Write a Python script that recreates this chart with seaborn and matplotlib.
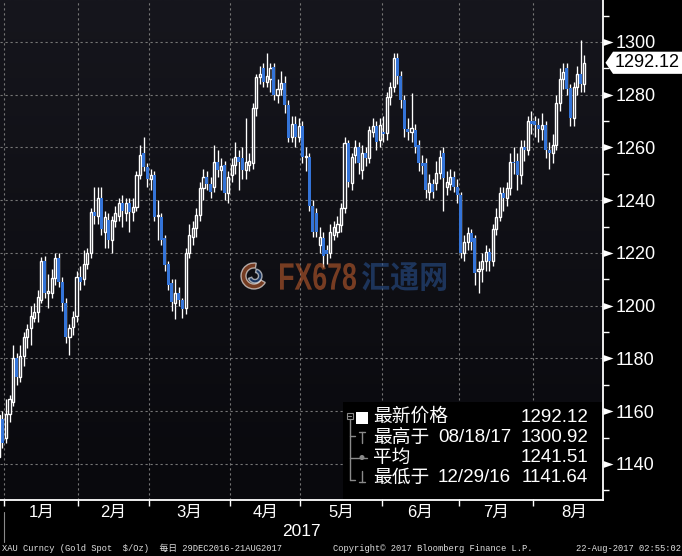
import numpy as np
import pandas as pd
import matplotlib
matplotlib.use("Agg")
import matplotlib.pyplot as plt
import matplotlib.transforms as mtransforms
from matplotlib.colors import LinearSegmentedColormap
from matplotlib.patches import Rectangle, Polygon, PathPatch, Wedge, Circle
from matplotlib.lines import Line2D
from matplotlib.textpath import TextPath
from matplotlib.font_manager import FontProperties
import seaborn as sns

# ---------------------------------------------------------------- data
# trading sessions per month: Dec-2016, Jan..Aug 2017
month_sessions = [2, 21, 20, 23, 20, 23, 22, 21, 15]
month_labels = ["1月", "2月", "3月", "4月", "5月", "6月", "7月", "8月"]
month_weekdays = [21, 20, 23, 20, 23, 22, 21, 23]
year_label = "2017"

opens = [
    1142.5, 1157,
    1150, 1159, 1163.5, 1180, 1173, 1181, 1188, 1191.5, 1195.5, 1197.5, 1202, 1217, 1205, 1205, 1210.5, 1218, 1209, 1201, 1188, 1192, 1196,
    1211, 1210, 1216, 1220, 1235.5, 1234, 1241, 1228, 1232.5, 1225, 1232, 1234, 1239, 1235, 1239, 1235.5, 1237.5, 1249.6, 1258, 1252.6,
    1248, 1249.6, 1234, 1233.6, 1225.6, 1216, 1208.6, 1201, 1205, 1202, 1199, 1220, 1226, 1229.5, 1234.4, 1244.6, 1248.8, 1246, 1245, 1254.6, 1251.6, 1253.4, 1242.7,
    1249.6, 1253.4, 1256.4, 1256, 1251.6, 1253.4, 1254, 1275, 1286.7, 1290, 1285, 1286, 1290.5, 1280, 1282, 1284.5, 1276, 1264, 1269, 1264,
    1268, 1256.4, 1256.4, 1238, 1235, 1223, 1225.6, 1221, 1220, 1227, 1228, 1230.6, 1237, 1261.7, 1246.5, 1257, 1260, 1251.5, 1258, 1256, 1266, 1268, 1263,
    1266, 1265.5, 1279, 1283, 1294, 1287, 1278, 1267, 1266, 1266.6, 1261, 1254, 1254, 1243, 1246, 1246.5, 1250.3, 1258, 1245, 1246, 1249, 1245,
    1242, 1220, 1224, 1227.6, 1225.6, 1213, 1214, 1217, 1220.4, 1217, 1229, 1233.6, 1242.7, 1241, 1244.6, 1254.6, 1255, 1249.6, 1260, 1259, 1270,
    1270, 1268.5, 1267, 1268.5, 1259, 1258, 1261, 1277, 1286, 1290, 1282.6, 1271, 1283, 1288, 1284,
]
highs = [
    1160.5, 1160,
    1164.6, 1166, 1185, 1182, 1185, 1190, 1193, 1200, 1201, 1206, 1218.5, 1219, 1212, 1214, 1220, 1220, 1211, 1203, 1193, 1198, 1213,
    1215, 1221, 1222, 1237, 1245, 1245, 1245, 1236, 1235, 1234, 1238, 1241, 1242, 1241, 1241, 1241, 1251, 1261, 1264, 1254,
    1252, 1251, 1240, 1235, 1227, 1217, 1210, 1210, 1207, 1203, 1222, 1231, 1232, 1237, 1247, 1252, 1251, 1249, 1261, 1259, 1256, 1255, 1251,
    1256, 1262, 1259, 1260, 1271, 1258, 1277, 1288, 1291, 1292, 1295.8, 1292, 1292, 1286, 1289, 1287, 1278, 1272, 1272, 1271,
    1270, 1260, 1258, 1240, 1237, 1230, 1228, 1223, 1231, 1232, 1234, 1239, 1264, 1263, 1258, 1263, 1262, 1261, 1260, 1268, 1271, 1270, 1271,
    1272, 1281, 1285, 1296, 1296, 1289, 1280, 1271, 1280.6, 1269, 1263, 1257, 1256, 1250, 1248, 1255, 1259, 1260, 1251, 1252, 1251, 1248,
    1243, 1227, 1230, 1229, 1227, 1217, 1220, 1223, 1222, 1231, 1237, 1245, 1245, 1247, 1258, 1260, 1258, 1263, 1263, 1272, 1274,
    1272, 1271, 1273, 1270, 1262, 1265, 1280, 1290, 1292, 1292, 1284, 1285, 1291, 1300.92, 1295,
]
lows = [
    1141.64, 1146,
    1148, 1156, 1162, 1170, 1171, 1177, 1184, 1185, 1194, 1194, 1201, 1203, 1199, 1203, 1208, 1207, 1198, 1186, 1181.3, 1189, 1194,
    1206, 1208, 1214, 1218, 1231, 1231, 1227, 1222, 1222, 1220, 1230, 1232, 1230, 1232, 1228, 1232, 1236, 1248, 1251, 1245,
    1244, 1232, 1225, 1223, 1213, 1206, 1198, 1195, 1200, 1195.5, 1197, 1218, 1223, 1226, 1232, 1240, 1244, 1241, 1243, 1249, 1244, 1240, 1239,
    1247, 1250, 1244, 1248, 1248, 1251, 1252, 1272, 1284, 1283, 1283, 1281, 1278, 1277, 1280, 1273, 1262, 1262, 1260, 1262,
    1254, 1251, 1236, 1226, 1226, 1220, 1214.7, 1216, 1218, 1225, 1226, 1228, 1235, 1245, 1244, 1254, 1250, 1248, 1253, 1254, 1264, 1259, 1260,
    1262, 1263, 1276, 1281, 1284, 1275, 1264, 1263, 1262, 1258, 1251, 1250, 1241, 1240, 1241, 1244, 1248, 1236, 1242, 1244, 1243, 1239,
    1218, 1217, 1221, 1221, 1208, 1205, 1209, 1213, 1213, 1215, 1227, 1232, 1236, 1238, 1242, 1250, 1244, 1246, 1255, 1257, 1265,
    1264, 1262, 1263, 1256, 1252, 1254, 1259, 1274, 1282, 1280, 1268, 1268, 1280, 1281, 1281,
]
closes = [
    1158.5, 1148,
    1159, 1164.5, 1180, 1173, 1181, 1188, 1191, 1196, 1197.5, 1203.3, 1217, 1205, 1205.5, 1210.5, 1218, 1209, 1201, 1188, 1191.6, 1195.6, 1211,
    1209, 1216, 1220, 1235.5, 1234, 1241, 1229, 1233.6, 1225, 1232.5, 1235, 1239, 1236, 1239, 1235.5, 1237.5, 1249.6, 1257, 1252.6, 1248,
    1249.6, 1233.6, 1234.5, 1225, 1215.4, 1208, 1201.4, 1205, 1202, 1198.8, 1220, 1227, 1229.5, 1234.4, 1244.6, 1248.8, 1246, 1243, 1254.6, 1251.6, 1253, 1242.7, 1248.8,
    1253.4, 1256.4, 1254.5, 1251.6, 1254.6, 1254.8, 1275, 1286.7, 1288, 1285, 1287, 1290, 1280, 1282, 1284.5, 1276, 1263.6, 1269, 1264, 1268,
    1256.4, 1256.6, 1238, 1228, 1228, 1226, 1219, 1219.5, 1228, 1230, 1231, 1237, 1261.7, 1247, 1256.4, 1260, 1254, 1258, 1256, 1266.6, 1268, 1262, 1268.5,
    1265, 1279, 1283, 1294, 1287, 1278, 1267, 1266, 1267.5, 1260, 1254, 1253, 1244, 1246.5, 1243, 1250.3, 1256.4, 1248.4, 1247, 1249, 1245, 1242,
    1220, 1224, 1227.6, 1224, 1212.4, 1214, 1217, 1220.4, 1217, 1229, 1233.6, 1242.7, 1241, 1244.6, 1254.6, 1254, 1249.6, 1260, 1259, 1270, 1269,
    1268.5, 1267, 1268.5, 1259, 1258, 1261, 1277, 1286, 1288.6, 1282, 1271, 1283, 1288, 1284, 1292.12,
]

y_major = [1140, 1160, 1180, 1200, 1220, 1240, 1260, 1280, 1300]
y_minor = [1130, 1150, 1170, 1190, 1210, 1230, 1250, 1270, 1290, 1310]

legend_labels = ["最新价格", "最高于", "平均", "最低于"]
legend_dates = ["", "08/18/17", "", "12/29/16"]
legend_values = [1292.12, 1300.92, 1241.51, 1141.64]

footer_left = "XAU Curncy (Gold Spot  $/Oz)  每日 29DEC2016-21AUG2017"
footer_mid = "Copyright\u00a9 2017 Bloomberg Finance L.P."
footer_right = "22-Aug-2017 02:55:02"

# ---------------------------------------------------------------- style
sns.set_theme(style="dark")
plt.rcParams["font.family"] = ["Liberation Sans", "Noto Sans CJK SC", "DejaVu Sans"]

W, H = 682, 556
fig = plt.figure(figsize=(W / 100, H / 100), dpi=100, facecolor="black")


def fx(x):
    return x / W


def fy(y):
    return 1 - y / H


ax = fig.add_axes([0, fy(500), fx(603), 500 / H])
XLIM = (0.3, 171.3)
YLIM = (1126.35, 1315.92)

# background gradient
bg = LinearSegmentedColormap.from_list("bg", ["#16161d", "#09090d"])
ax.imshow(np.linspace(0, 1, 256).reshape(-1, 1), extent=[XLIM[0], XLIM[1], YLIM[0], YLIM[1]],
          aspect="auto", cmap=bg, zorder=0, interpolation="bilinear")

df = pd.DataFrame({"open": opens, "high": highs, "low": lows, "close": closes})
df["pos"] = np.arange(len(df))
df["up"] = df["close"] >= df["open"]
df["body_lo"] = df[["open", "close"]].min(axis=1)
df["body_h"] = (df["close"] - df["open"]).abs().clip(lower=0.4)

ax.vlines(df["pos"], df["low"], df["high"], colors="white", linewidth=0.95, zorder=3)
u = df[df["up"]]
d = df[~df["up"]]
ax.bar(u["pos"], u["body_h"], bottom=u["body_lo"], width=0.6, facecolor="#0e0e14",
       edgecolor="white", linewidth=1.0, zorder=4)
ax.bar(d["pos"], d["body_h"], bottom=d["body_lo"], width=0.85, facecolor="#3474d8",
       edgecolor="none", linewidth=0, zorder=4)

ax.set_xlim(*XLIM)
ax.set_ylim(*YLIM)

# grid
cum = np.cumsum(month_sessions)
boundaries = [c - 0.5 for c in cum[:-1]]
mids = [b + w / 2 for b, w in zip(boundaries, month_weekdays)]
ax.set_xticks(boundaries)
ax.set_xticklabels([])
ax.grid(True, which="major", color="#767676", linestyle=(0, (2, 2.5)), linewidth=0.8)
ax.set_axisbelow(True)

# spines
for s in ["left", "top"]:
    ax.spines[s].set_visible(False)
for s in ["right", "bottom"]:
    ax.spines[s].set_color("white")
    ax.spines[s].set_linewidth(1.3)
    ax.spines[s].set_zorder(9)

ax.tick_params(axis="x", which="major", length=4, width=1, color="white", direction="out", bottom=True)

# y axis on the right
ax.yaxis.tick_right()
ax.set_yticks(y_major)
ax.set_yticklabels([str(v) for v in y_major])
ax.set_yticks(y_minor, minor=True)
ax.tick_params(axis="y", which="major", length=0, pad=9, labelsize=13, labelcolor="white")
ax.tick_params(axis="y", which="minor", length=4, width=1, color="white", direction="out",
               right=True, left=False)
for t in ax.get_yticklabels():
    t.set_family("Liberation Sans")

trans_y = mtransforms.blended_transform_factory(ax.transAxes, ax.transData)
trans_x = mtransforms.blended_transform_factory(ax.transData, ax.transAxes)
tri = [(-1, 0.7), (1, 0), (-1, -0.7), (-1, 0.7)]
ax.plot([1.0085] * len(y_major), y_major, linestyle="none", marker=tri, markersize=7.2,
        markeredgewidth=0, color="white", transform=trans_y, clip_on=False, zorder=10)

# month labels and year
for m, lab in zip(mids, month_labels):
    ax.text(m, -0.024, lab, transform=trans_x, ha="center", va="center", color="white",
            fontsize=12, clip_on=False)
ax.text(0.5, -0.062, year_label, transform=ax.transAxes, ha="center", va="center",
        color="white", fontsize=12.5, clip_on=False)
fig.add_artist(Line2D([fx(3.5), fx(3.5)], [fy(512), fy(542)], color="#8a8a8a", linewidth=0.8))

# last price tag
last = closes[-1]
ax.add_patch(Polygon([(1.0041, last), (1.0166, last + 4.2), (1.14, last + 4.2),
                      (1.14, last - 4.2), (1.0166, last - 4.2)], closed=True,
                     transform=trans_y, facecolor="white", edgecolor="none",
                     clip_on=False, zorder=11))
ax.text(1.0199, last, f"{last:.2f}", transform=trans_y, ha="left", va="center",
        color="black", fontsize=13, clip_on=False, zorder=12)

# watermark
pix = mtransforms.Affine2D().scale(1 / W, 1 / H) + fig.transFigure


def fit_path(text, family, x0, top, x1, bottom, color, alpha, weight="bold"):
    tp = TextPath((0, 0), text, size=40, prop=FontProperties(family=family, weight=weight))
    e = tp.get_extents()
    sx = (x1 - x0) / e.width
    sy = (bottom - top) / e.height
    tf = (mtransforms.Affine2D().translate(-e.x0, -e.y0).scale(sx, sy)
          .translate(x0, H - bottom) + pix)
    fig.add_artist(PathPatch(tp, transform=tf, facecolor=color, edgecolor="none",
                             alpha=alpha, zorder=1))


fit_path("FX678", "Liberation Sans", 280, 263, 356, 290, "#b85a2c", 0.62)
fit_path("汇通网", "Noto Sans CJK SC", 362, 262, 446, 291, "#2a5596", 0.55)
fig.add_artist(Wedge((254, H - 276), 13, 80, 330, width=5, transform=pix,
                     facecolor="#b85a2c", alpha=0.6, zorder=1))
fig.add_artist(Wedge((255, H - 276), 7, 200, 80, width=3.5, transform=pix,
                     facecolor="#2a5596", alpha=0.6, zorder=1))

# legend box
fig.add_artist(Rectangle((fx(343), fy(499.3)), fx(601.8) - fx(343), (499.3 - 402) / H,
                         transform=fig.transFigure, facecolor="black", edgecolor="none", zorder=2))
gray = "#8a8a8a"


def seg(x0, y0, x1, y1, lw=1.0, c=gray):
    fig.add_artist(Line2D([fx(x0), fx(x1)], [fy(y0), fy(y1)], color=c, linewidth=lw, zorder=3))


# tree connectors
fig.add_artist(Rectangle((fx(346.5), fy(419)), 6 / W, 6 / H, transform=fig.transFigure,
                         facecolor="none", edgecolor=gray, linewidth=0.8, zorder=3))
seg(347.8, 416, 351.2, 416, 0.8)
seg(349.5, 419, 349.5, 480)
seg(349.5, 436, 355, 436)
seg(359, 432, 365, 432)
seg(362, 432, 362, 443)
seg(349.5, 457.5, 367, 457.5)
fig.add_artist(Circle((362, H - 457.5), 1.8, transform=pix, facecolor=gray, edgecolor=gray, zorder=3))
seg(349.5, 480, 355, 480)
seg(359, 482, 365, 482)
seg(362, 471, 362, 482)
fig.add_artist(Rectangle((fx(356), fy(424)), 12 / W, 12 / H, transform=fig.transFigure,
                         facecolor="white", edgecolor="none", zorder=3))

row_y = [417.5, 438, 458, 478]
for yy, lab, dt, val in zip(row_y, legend_labels, legend_dates, legend_values):
    fig.text(fx(373), fy(yy), lab, ha="left", va="center", color="white", fontsize=13.5, zorder=4)
    if dt:
        fig.text(fx(438), fy(yy), dt, ha="left", va="center", color="white", fontsize=13.5, zorder=4)
    fig.text(fx(588), fy(yy), f"{val:.2f}", ha="right", va="center", color="white",
             fontsize=13.5, zorder=4)

# footer
mono = ["Liberation Mono", "Noto Sans CJK SC"]
fig.text(fx(2), fy(548.5), footer_left, ha="left", va="center", color="#e0e0e0", fontsize=6.3, family=mono)
fig.text(fx(333), fy(548.5), footer_mid, ha="left", va="center", color="#e0e0e0", fontsize=6.3, family=mono)
fig.text(fx(681), fy(548.5), footer_right, ha="right", va="center", color="#e0e0e0", fontsize=6.3, family=mono)

fig.savefig("out.png", dpi=100, facecolor="black")
